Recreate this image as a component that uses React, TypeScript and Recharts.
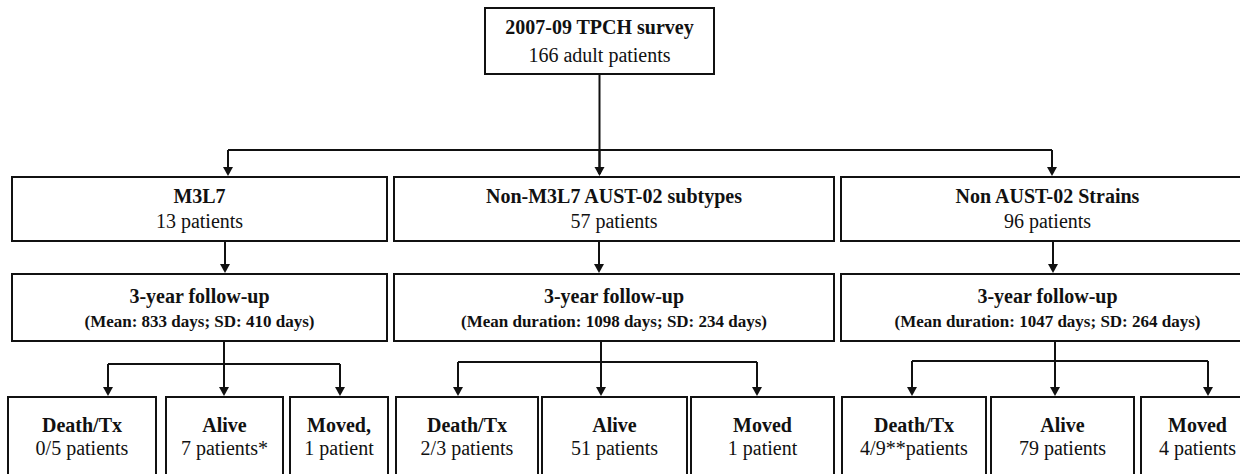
import React from "react";
import {
  ScatterChart,
  Scatter,
  XAxis,
  YAxis,
  ReferenceArea,
  ReferenceLine,
} from "recharts";

// ---------- DATA (texts & numbers) ----------
const surveyTitle = "2007-09 TPCH survey";
const surveyCount = "166 adult patients";

const groupNames = ["M3L7", "Non-M3L7 AUST-02 subtypes", "Non AUST-02 Strains"];
const groupCounts = ["13 patients", "57 patients", "96 patients"];

const followUpTitle = "3-year follow-up";
const followUpNotes = [
  "(Mean: 833 days; SD: 410 days)",
  "(Mean duration: 1098 days; SD: 234 days)",
  "(Mean duration: 1047 days; SD: 264 days)",
];

const outcomeNames = [
  ["Death/Tx", "Alive", "Moved,"],
  ["Death/Tx", "Alive", "Moved"],
  ["Death/Tx", "Alive", "Moved"],
];
const outcomeCounts = [
  ["0/5 patients", "7 patients*", "1 patient"],
  ["2/3 patients", "51 patients", "1 patient"],
  ["4/9**patients", "79 patients", "4 patients"],
];

// ---------- LAYOUT (diagram units, mapped through the axis scales) ----------
const W = 1240;
const H = 474;
const topBox = { x1: 485, x2: 714, y1: 8, y2: 74 };
const columnSpans = [
  [12, 387],
  [394, 834],
  [841, 1254],
];
const groupRow = [177, 241];
const followRow = [274, 341];
const outcomeRow = [397, 520];
const outcomeSpans = [
  [
    [8, 156],
    [166, 283],
    [290, 388],
  ],
  [
    [396, 538],
    [542, 687],
    [691, 834],
  ],
  [
    [842, 986],
    [991, 1134],
    [1141, 1254],
  ],
];
const trunkX = 599.5;
const splitY = 150;
const splitX = [228, 599.5, 1052];
const groupArrowX = [225, 599, 1053];
const branchY = [364, 362, 361];
const branchX = [
  [108, 224, 340],
  [458, 601, 757],
  [912, 1055, 1208],
];

const FONT = "'Liberation Serif', 'Times New Roman', Times, serif";
const INK = "#111";
const ARROW_H = 9;

type Line = { text: string; bold: boolean; size: number; dy: number };

const BoxText = (props: any) => {
  const vb = props.viewBox || {};
  const lines: Line[] = props.lines || [];
  const cx = (vb.x ?? 0) + (vb.width ?? 0) / 2;
  const top = vb.y ?? 0;
  return (
    <g>
      {lines.map((l, i) => (
        <text
          key={i}
          x={cx}
          y={top + l.dy}
          textAnchor="middle"
          fontFamily={FONT}
          fontSize={l.size}
          fontWeight={l.bold ? "bold" : "normal"}
          fill={INK}
        >
          {l.text}
        </text>
      ))}
    </g>
  );
};

const Arrowhead = (props: any) => {
  const { cx, cy } = props;
  if (cx == null || cy == null) return null;
  return (
    <path
      d={`M${cx - 5},${cy - ARROW_H} L${cx + 5},${cy - ARROW_H} L${cx},${cy} Z`}
      fill={INK}
      stroke="none"
    />
  );
};

type Box = { x1: number; x2: number; y1: number; y2: number; lines: Line[] };

const boxes: Box[] = [];
boxes.push({
  ...topBox,
  lines: [
    { text: surveyTitle, bold: true, size: 20, dy: 26 },
    { text: surveyCount, bold: false, size: 20, dy: 54 },
  ],
});
groupNames.forEach((g, i) => {
  boxes.push({
    x1: columnSpans[i][0],
    x2: columnSpans[i][1],
    y1: groupRow[0],
    y2: groupRow[1],
    lines: [
      { text: g, bold: true, size: 20, dy: 26 },
      { text: groupCounts[i], bold: false, size: 20, dy: 51 },
    ],
  });
  boxes.push({
    x1: columnSpans[i][0],
    x2: columnSpans[i][1],
    y1: followRow[0],
    y2: followRow[1],
    lines: [
      { text: followUpTitle, bold: true, size: 20, dy: 29 },
      { text: followUpNotes[i], bold: true, size: 17, dy: 53 },
    ],
  });
  outcomeNames[i].forEach((o, j) => {
    boxes.push({
      x1: outcomeSpans[i][j][0],
      x2: outcomeSpans[i][j][1],
      y1: outcomeRow[0],
      y2: outcomeRow[1],
      lines: [
        { text: o, bold: true, size: 20, dy: 35 },
        { text: outcomeCounts[i][j], bold: false, size: 20, dy: 58 },
      ],
    });
  });
});

type Seg = [{ x: number; y: number }, { x: number; y: number }];
const segments: Seg[] = [];
const arrowTips: { x: number; y: number }[] = [];

// top trunk
segments.push([{ x: trunkX, y: topBox.y2 }, { x: trunkX, y: groupRow[0] - 3 }]);
segments.push([{ x: splitX[0], y: splitY }, { x: splitX[2], y: splitY }]);
splitX.forEach((x) => {
  segments.push([{ x, y: splitY }, { x, y: groupRow[0] - 3 }]);
  arrowTips.push({ x, y: groupRow[0] - 1 });
});
groupArrowX.forEach((x, i) => {
  segments.push([{ x, y: groupRow[1] }, { x, y: followRow[0] - 3 }]);
  arrowTips.push({ x, y: followRow[0] - 1 });
  const bx = branchX[i];
  const by = branchY[i];
  segments.push([{ x: bx[1], y: followRow[1] }, { x: bx[1], y: by }]);
  segments.push([{ x: bx[0], y: by }, { x: bx[2], y: by }]);
  bx.forEach((x2) => {
    segments.push([{ x: x2, y: by }, { x: x2, y: outcomeRow[0] - 3 }]);
    arrowTips.push({ x: x2, y: outcomeRow[0] - 1 });
  });
});

export default function App() {
  return (
    <div
      style={{
        position: "fixed",
        left: 0,
        top: 0,
        width: W,
        height: H,
        background: "#fff",
        overflow: "hidden",
      }}
    >
      <ScatterChart
        width={W}
        height={H}
        margin={{ top: 0, right: 0, bottom: 0, left: 0 }}
      >
        <XAxis
          type="number"
          dataKey="x"
          domain={[0, W]}
          allowDataOverflow
          hide
        />
        <YAxis
          type="number"
          dataKey="y"
          domain={[0, H]}
          reversed
          allowDataOverflow
          hide
        />
        {segments.map((s, i) => (
          <ReferenceLine
            key={`s${i}`}
            segment={s}
            stroke={INK}
            strokeWidth={2}
            ifOverflow="visible"
          />
        ))}
        {boxes.map((b, i) => (
          <ReferenceArea
            key={`b${i}`}
            x1={b.x1}
            x2={b.x2}
            y1={b.y1}
            y2={b.y2}
            fill="#fff"
            fillOpacity={1}
            stroke={INK}
            strokeWidth={2}
            ifOverflow="visible"
            label={<BoxText lines={b.lines} />}
          />
        ))}
        <Scatter
          data={arrowTips}
          shape={<Arrowhead />}
          isAnimationActive={false}
        />
      </ScatterChart>
    </div>
  );
}
